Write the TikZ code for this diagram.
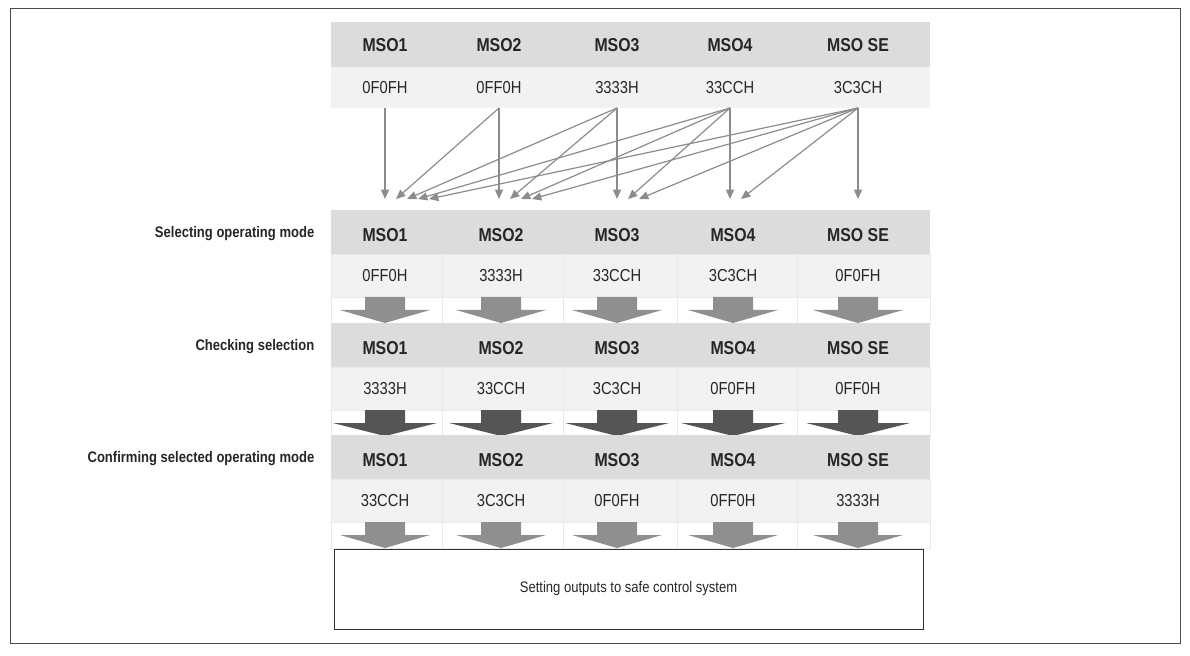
\documentclass[tikz,border=0pt]{standalone}
\usepackage{fontspec}
\setmainfont{Liberation Sans}[FakeStretch=0.85]
\begin{document}
\begin{tikzpicture}[x=0.75pt,y=-0.75pt,
  hdr/.style={fill=hgray,draw=none},
  val/.style={fill=vgray,draw=none},
  htxt/.style={font=\bfseries\fontsize{14}{16}\selectfont,text=black!85},
  vtxt/.style={font=\fontsize{13}{15}\selectfont,text=black!85},
  ltxt/.style={font=\bfseries\fontsize{11.5}{13}\selectfont,anchor=east,text=black!85},
  conn/.style={draw=agray,line width=0.9pt,-{Triangle[width=6pt,length=7pt]}},
]
\usetikzlibrary{arrows.meta}
\definecolor{hgray}{HTML}{DCDCDC}
\definecolor{vgray}{HTML}{F2F2F2}
\definecolor{agray}{HTML}{8C8C8C}
\definecolor{lgray}{HTML}{8F8F8F}
\definecolor{dgray}{HTML}{555555}
\useasboundingbox (0,0) rectangle (1190,656);
\draw[black!70,line width=0.6pt] (10,8) rectangle (1180,643);
% top table
\fill[hgray] (331,22) rectangle (930,67);
\fill[vgray] (331,67) rectangle (930,108);
\def\cx{{385,499,617,730,858}}
\foreach \n/\x/\h/\v in {1/385/MSO1/0F0FH,2/499/MSO2/0FF0H,3/617/MSO3/3333H,4/730/MSO4/33CCH,5/858/MSO SE/3C3CH}{
  \node[htxt] (th\n) at (\x,45) {\h};
  \node[vtxt] (tv\n) at (\x,88) {\v};
  \coordinate (s\n) at (\x,108);
}
% connectors
\foreach \j/\sx in {1/385,2/499,3/617,4/730,5/858}{
  \foreach \i/\tx in {1/385,2/499,3/617,4/730,5/858}{
    \ifnum\i>\j\else
      \pgfmathsetmacro\off{(\j-\i)*11}
      \coordinate (e\j\i) at (\tx+\off,199);
      \draw[conn] (s\j) -- (e\j\i);
    \fi
  }
}
% lower tables
\def\bnd{331,442,563,677,797,930}
\foreach \r/\yt/\ac/\aw/\lab/\va/\vb/\vc/\vd/\ve in {
  1/210/lgray/90/Selecting operating mode/0FF0H/3333H/33CCH/3C3CH/0F0FH,
  2/323/dgray/104/Checking selection/3333H/33CCH/3C3CH/0F0FH/0FF0H,
  3/435/lgray/90/Confirming selected operating mode/33CCH/3C3CH/0F0FH/0FF0H/3333H}{
  \fill[hgray] (331,\yt) rectangle (930,\yt+44);
  \foreach \xa/\xb [count=\k] in {331/442,442/563,563/677,677/797,797/930}{
    \draw[vgray!60!hgray,fill=vgray] (\xa,\yt+44) rectangle (\xb,\yt+87);
    \draw[vgray!60!hgray] (\xa,\yt+87) rectangle (\xb,\yt+113);
  }
  \node[ltxt] (l\r) at (319,\yt+24) {\lab};
  \foreach \n/\x/\h/\v in {1/385/MSO1/\va,2/501/MSO2/\vb,3/617/MSO3/\vc,4/733/MSO4/\vd,5/858/MSO SE/\ve}{
    \node[htxt] (h\r\n) at (\x,\yt+25) {\h};
    \node[vtxt] (v\r\n) at (\x,\yt+66) {\v};
    \fill[\ac] (\x-20,\yt+87) -- (\x+20,\yt+87) -- (\x+20,\yt+100) -- (\x+\aw/2,\yt+100)
      -- (\x,\yt+113) -- (\x-\aw/2,\yt+100) -- (\x-20,\yt+100) -- cycle;
  }
}
\node[draw=black!80,line width=0.6pt,minimum width=589*0.75pt,minimum height=80*0.75pt,
  font=\fontsize{11.5}{13}\selectfont,text=black!85] (out) at (628.5,589) {Setting outputs to safe control system};
\end{tikzpicture}
\end{document}
